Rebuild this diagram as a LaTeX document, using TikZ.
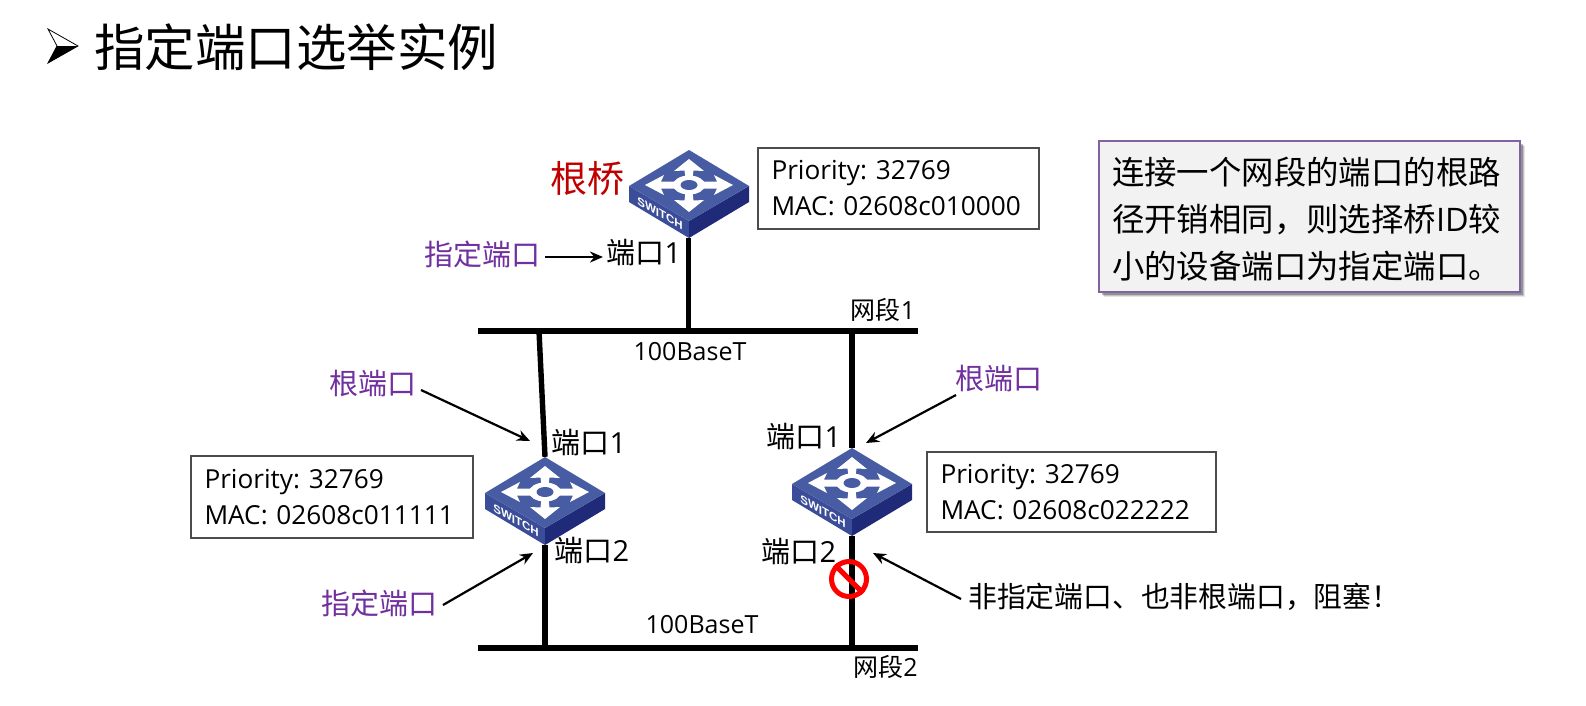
\documentclass[tikz,border=0pt]{standalone}
\usepackage{fontspec}
\setmainfont{Open Sans}
\newfontfamily\cjk{Noto Sans CJK SC}
\newfontfamily\swfont{Liberation Sans}
\usetikzlibrary{arrows.meta}
\frenchspacing
\definecolor{purp}{HTML}{7030A0}
\definecolor{rootred}{HTML}{C00000}
\definecolor{swtop}{HTML}{485CA3}
\definecolor{swleft}{HTML}{3B4D98}
\definecolor{swright}{HTML}{1F2B78}
\definecolor{boxedge}{HTML}{8064A2}
\tikzset{
  x=1pt,y=-1pt,
  wire/.style={line width=5.4pt,black},
  callout/.style={-{Stealth[length=13pt,width=11pt]},line width=2.2pt,black},
  idbox/.style={draw=black!70,line width=1.2pt,fill=white,align=left,text=black,inner sep=0pt,
     font=\fontsize{26.2}{36}\selectfont},
  portlab/.style={inner sep=0pt,font=\fontsize{29}{34}\selectfont},
  seglab/.style={inner sep=0pt,font=\fontsize{25}{30}\selectfont},
  rolelab/.style={inner sep=0pt,text=purp,font=\fontsize{29}{34}\selectfont\cjk},
  swnode/.style={inner sep=0pt,minimum width=120pt,minimum height=88pt},
}
\newcommand{\swicon}[2]{%
\begin{scope}[shift={(#1,#2)}]
  \fill[swleft] (-60,36) -- (0,71) -- (0,88) -- (-60,52) -- cycle;
  \fill[swright] (60,36) -- (0,71) -- (0,88) -- (60,52) -- cycle;
  \fill[swtop] (0,0) -- (60,36) -- (0,71) -- (-60,36) -- cycle;
  \begin{scope}[shift={(0,35)}]
    \fill[white] (-44,0) -- (-25,-10) -- (-28,-3.5) -- (-14,-3.5) -- (-14,3.5) -- (-28,3.5) -- (-25,10) -- cycle;
    \fill[white] (44,0) -- (25,-10) -- (28,-3.5) -- (14,-3.5) -- (14,3.5) -- (28,3.5) -- (25,10) -- cycle;
    \fill[white] (0,-26) -- (-15,-14) -- (-4.5,-14.5) -- (-3.5,-7) -- (3.5,-7) -- (4.5,-14.5) -- (15,-14) -- cycle;
    \fill[white] (0,27) -- (-15,15) -- (-4.5,15.5) -- (-3.5,7) -- (3.5,7) -- (4.5,15.5) -- (15,15) -- cycle;
    \fill[white] (0,0) ellipse [x radius=16,y radius=9.5];
    \fill[swtop] (0,0) ellipse [x radius=8.5,y radius=5];
  \end{scope}
  \node[inner sep=0pt,text=white,cm={1,-0.58,0,1,(0,0)},font=\fontsize{11.5}{12}\swfont\bfseries\selectfont] at (-29,63.5) {SWITCH};
\end{scope}}
\begin{document}
\begin{tikzpicture}
\useasboundingbox (0,0) rectangle (1586,705);
\fill[white] (0,0) rectangle (1586,705);

% title
\fill[white] (48,29) -- (78,46) -- (57,46) -- cycle;
\fill[black] (48,63) -- (78,46) -- (57,46) -- cycle;
\draw[line width=.8pt,line join=miter] (48,29) -- (78,46) -- (48,63) -- (57,46) -- cycle;
\node[inner sep=0pt,anchor=west,font=\fontsize{50.5}{56}\selectfont\cjk] (title) at (94,47) {指定端口选举实例};

% segments
\coordinate (b1L) at (478,331); \coordinate (b1R) at (918,331);
\coordinate (b2L) at (478,648); \coordinate (b2R) at (918,648);
\coordinate (j1) at (688.5,331); \coordinate (j2) at (539,331);
\coordinate (j3) at (852,331); \coordinate (j4) at (545,648);
\coordinate (j5) at (852,648);

\node[swnode] (swA) at (688.5,194) {};
\node[swnode] (swB) at (545,501) {};
\node[swnode] (swC) at (852,492) {};

\draw[wire] (b1L) -- (b1R);
\draw[wire] (b2L) -- (b2R);
\draw[wire] (swA.south) -- (j1);
\draw[wire] (j2) -- (swB.north);
\draw[wire] (swB.south) -- (j4);
\draw[wire] (j3) -- (swC.north);
\draw[wire] (swC.south) -- (j5);

\swicon{689}{150}
\swicon{545}{457}
\swicon{852}{448}

% id boxes
\node[idbox,minimum width=281pt,minimum height=81pt,text width=254pt] (idA) at (898.5,188.5) {Priority: 32769\\MAC: 02608c010000};
\node[idbox,minimum width=282pt,minimum height=82pt,text width=255pt] (idB) at (332,497) {Priority: 32769\\MAC: 02608c011111};
\node[idbox,minimum width=289pt,minimum height=80pt,text width=262pt] (idC) at (1071.5,492) {Priority: 32769\\MAC: 02608c022222};

% info box
\foreach \d/\o in {5/.10,4/.15,3/.25}
  \fill[black,opacity=\o] (1099+\d,141+\d) rectangle (1520+\d,292+\d);
\node[draw=boxedge,line width=1.5pt,fill=black!5,minimum width=421pt,minimum height=151pt,inner sep=0pt] (info) at (1309.5,216.5) {};
\node[inner sep=0pt,text width=396pt,align=left,font=\fontsize{32.4}{47}\selectfont\cjk] (infotext) at (1310,219)
  {连接一个网段的端口的根路\\径开销相同，则选择桥{\fontspec{Open Sans}ID}较\\小的设备端口为指定端口。};

% labels
\node[inner sep=0pt,text=rootred,font=\fontsize{37}{40}\selectfont\cjk] (root) at (587,179) {根桥};
\node[rolelab] (desA) at (482,254) {指定端口};
\node[portlab] (pA) at (644,253) {{\cjk 端口}1};
\node[seglab] (s1) at (883,310) {{\cjk 网段}1};
\node[seglab] (bw1) at (690,352) {100BaseT};
\node[seglab] (bw2) at (702,625) {100BaseT};
\node[seglab] (s2) at (885.5,667) {{\cjk 网段}2};
\node[rolelab] (rootB) at (373,383) {根端口};
\node[rolelab] (rootC) at (999,378) {根端口};
\node[rolelab] (desB) at (379,603) {指定端口};
\node[portlab] (pB1) at (589,443) {{\cjk 端口}1};
\node[portlab] (pB2) at (592,551) {{\cjk 端口}2};
\node[portlab] (pC1) at (804,437) {{\cjk 端口}1};
\node[portlab] (pC2) at (799,552) {{\cjk 端口}2};
\node[inner sep=0pt,anchor=west,font=\fontsize{28.8}{34}\selectfont\cjk] (block) at (968,597) {非指定端口、也非根端口，阻塞！};

% blocked mark
\node[circle,draw=red,line width=5pt,minimum size=35pt,inner sep=0pt] (ban) at (849,579) {};
\draw[red,line width=5pt] (ban.135) -- (ban.315);

% callouts
\coordinate (tA) at (603,257); \coordinate (fA) at (545,257);
\coordinate (tB) at (530,441); \coordinate (fB) at (421,390);
\coordinate (tC) at (866,443); \coordinate (fC) at (956,395);
\coordinate (tD) at (533,553); \coordinate (fD) at (443,605);
\coordinate (tE) at (873,553); \coordinate (fE) at (961,599);
\draw[callout] (fA) -- (tA);
\draw[callout] (fB) -- (tB);
\draw[callout] (fC) -- (tC);
\draw[callout] (fD) -- (tD);
\draw[callout] (fE) -- (tE);
\end{tikzpicture}
\end{document}
